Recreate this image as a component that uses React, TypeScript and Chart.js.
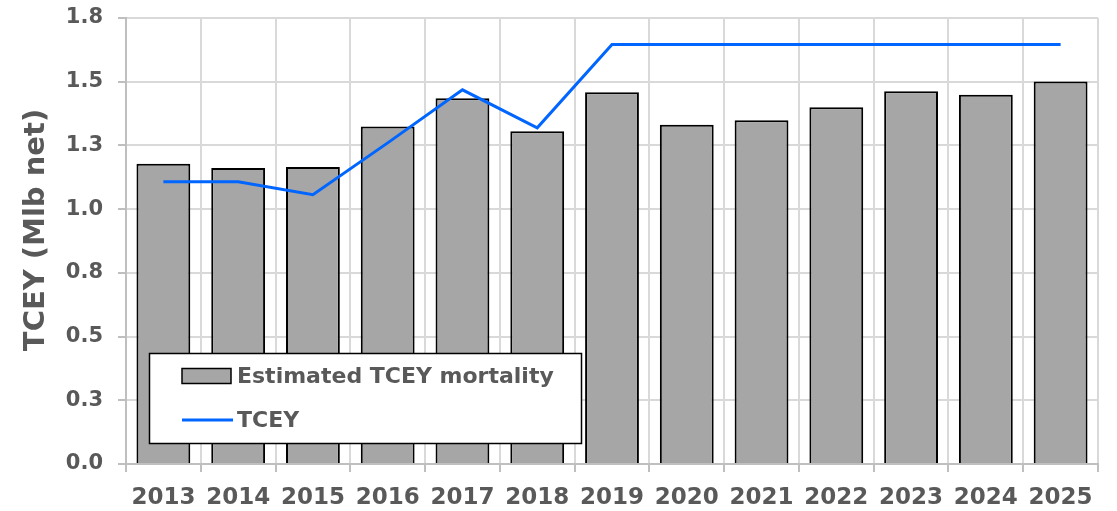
import React, { useEffect, useRef } from "react";
import { Chart, registerables } from "chart.js";

Chart.register(...registerables);

const categories = ["2013", "2014", "2015", "2016", "2017", "2018", "2019", "2020", "2021", "2022", "2023", "2024", "2025"];
const mortality = [1.178, 1.161, 1.165, 1.324, 1.435, 1.306, 1.459, 1.331, 1.349, 1.4, 1.463, 1.449, 1.501];
const tcey = [1.107, 1.107, 1.057, 1.26, 1.468, 1.319, 1.646, 1.646, 1.646, 1.646, 1.646, 1.646, 1.646];
const yTickLabels = ["0.0", "0.3", "0.5", "0.8", "1.0", "1.3", "1.5", "1.8"];
const yTitle = "TCEY (Mlb net)";
const barLabel = "Estimated TCEY mortality";
const lineLabel = "TCEY";

const FONT = "'DejaVu Sans', Verdana, sans-serif";
const TEXT = "#595959";
const BAR_FILL = "#a6a6a6";
const LINE_COLOR = "#0066ff";

const customPlugin = {
  id: "customDecor",
  afterDatasetsDraw(chart: any) {
    const { ctx, chartArea } = chart;
    const bx = chartArea.left + 23.5;
    const by = chartArea.bottom - 110.5;
    const bw = 432;
    const bh = 90;
    ctx.save();
    ctx.fillStyle = "#ffffff";
    ctx.fillRect(bx, by, bw, bh);
    ctx.strokeStyle = "#000000";
    ctx.lineWidth = 1.5;
    ctx.strokeRect(bx, by, bw, bh);

    const ds = chart.data.datasets;
    const barDs = ds.find((d: any) => d.type === "bar");
    const lineDs = ds.find((d: any) => d.type === "line");

    const sx = bx + 32.5;
    const y1 = by + 22.5;
    ctx.fillStyle = barDs.backgroundColor;
    ctx.fillRect(sx, y1 - 7.5, 49, 15);
    ctx.lineWidth = 1.5;
    ctx.strokeStyle = "#000";
    ctx.strokeRect(sx, y1 - 7.5, 49, 15);

    ctx.font = `bold 22px ${FONT}`;
    ctx.fillStyle = TEXT;
    ctx.textAlign = "left";
    ctx.textBaseline = "middle";
    ctx.fillText(barDs.label, sx + 55, y1 + 1);

    const y2 = by + 66.5;
    ctx.strokeStyle = lineDs.borderColor;
    ctx.lineWidth = 3;
    ctx.beginPath();
    ctx.moveTo(sx, y2);
    ctx.lineTo(sx + 51, y2);
    ctx.stroke();
    ctx.fillText(lineDs.label, sx + 55, y2 + 1);
    ctx.restore();
  },
  afterDraw(chart: any) {
    const { ctx, chartArea } = chart;
    ctx.save();
    ctx.translate(36, (chartArea.top + chartArea.bottom) / 2 - 11);
    ctx.rotate(-Math.PI / 2);
    ctx.font = `bold 29px ${FONT}`;
    ctx.fillStyle = TEXT;
    ctx.textAlign = "center";
    ctx.textBaseline = "middle";
    ctx.fillText(yTitle, 0, 0);
    ctx.restore();
  },
};

export default function App() {
  const canvasRef = useRef<HTMLCanvasElement | null>(null);

  useEffect(() => {
    const canvas = canvasRef.current;
    if (!canvas) return;
    const chart = new Chart(canvas, {
      type: "bar",
      data: {
        labels: categories,
        datasets: [
          {
            type: "line",
            label: lineLabel,
            data: tcey,
            borderColor: LINE_COLOR,
            backgroundColor: LINE_COLOR,
            borderWidth: 3,
            pointRadius: 0,
            tension: 0,
            order: 0,
          } as any,
          {
            type: "bar",
            label: barLabel,
            data: mortality,
            backgroundColor: BAR_FILL,
            borderColor: "#000000",
            borderWidth: 2,
            barPercentage: 0.72,
            categoryPercentage: 1,
            order: 1,
          } as any,
        ],
      },
      options: {
        animation: false,
        responsive: false,
        devicePixelRatio: 1,
        layout: { padding: { top: 18, right: 19, left: 0, bottom: 0 } },
        plugins: {
          legend: { display: false },
          tooltip: { enabled: false },
        },
        scales: {
          x: {
            offset: true,
            grid: {
              offset: true,
              color: "#d9d9d9",
              lineWidth: 2,
              tickColor: "#bfbfbf",
              tickLength: 8,
            },
            border: { color: "#bfbfbf", width: 2 },
            ticks: {
              color: TEXT,
              font: { family: FONT, size: 23, weight: "bold" },
              padding: 12,
              maxRotation: 0,
              autoSkip: false,
            },
            afterFit(scale: any) {
              scale.height = 47;
              scale.paddingLeft = 0;
              scale.paddingRight = 0;
            },
          },
          y: {
            min: 0,
            max: 1.75,
            grid: {
              color: "#d9d9d9",
              lineWidth: 2,
              tickColor: "#bfbfbf",
              tickLength: 8,
            },
            border: { color: "#bfbfbf", width: 2 },
            ticks: {
              stepSize: 0.25,
              color: TEXT,
              font: { family: FONT, size: 21, weight: "bold" },
              padding: 15,
              callback: (_v: any, i: number) => yTickLabels[i],
            },
            afterFit(scale: any) {
              scale.width = 126;
              scale.paddingTop = 0;
              scale.paddingBottom = 0;
            },
          },
        },
      },
      plugins: [customPlugin],
    });
    return () => chart.destroy();
  }, []);

  return (
    <div style={{ position: "fixed", left: 0, top: 0, width: 1117, height: 511, background: "#fff" }}>
      <canvas ref={canvasRef} width={1117} height={511} style={{ width: 1117, height: 511 }} />
    </div>
  );
}
